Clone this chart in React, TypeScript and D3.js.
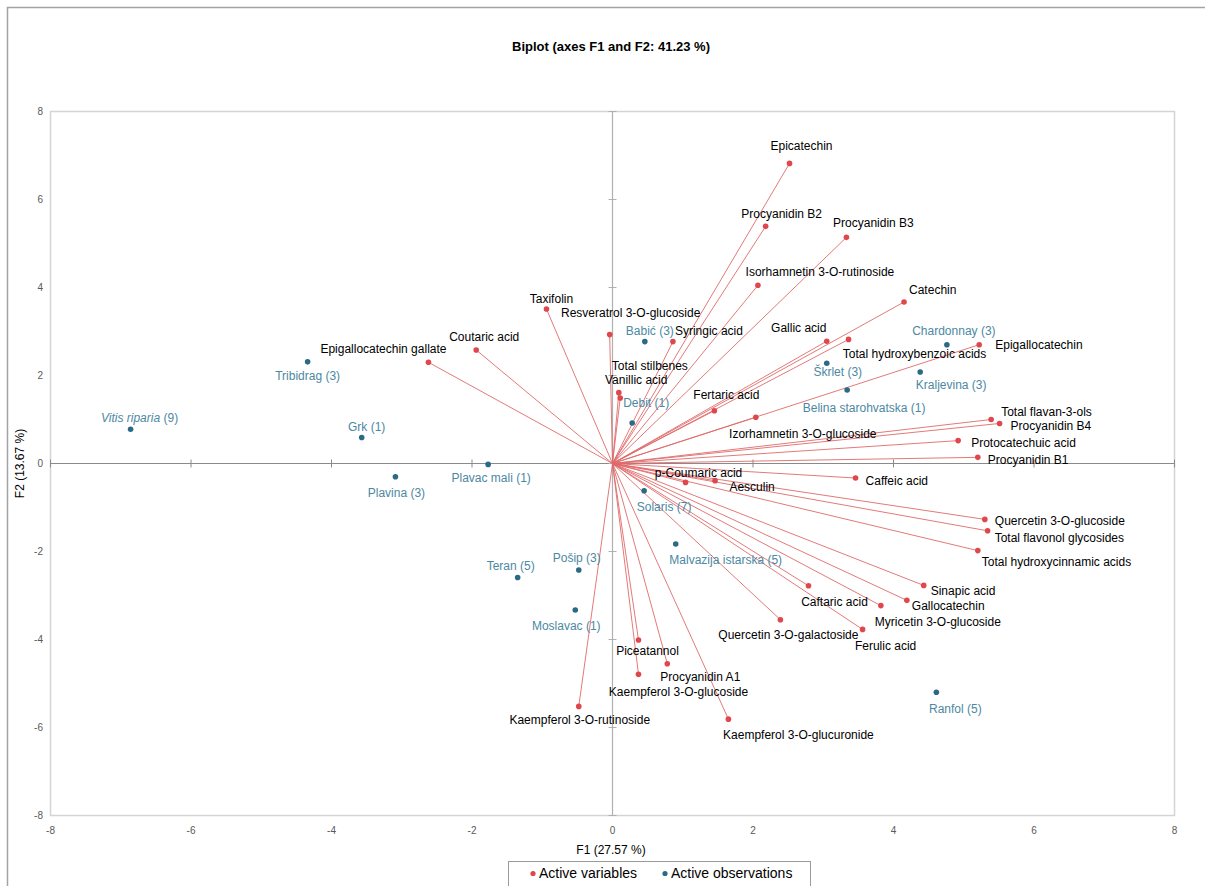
import React from "react";
import * as d3 from "d3";

// ---- Data ----
const varNames = [
  "Epicatechin", "Procyanidin B2", "Procyanidin B3", "Isorhamnetin 3-O-rutinoside", "Catechin",
  "Taxifolin", "Resveratrol 3-O-glucoside", "Syringic acid", "Gallic acid", "Total hydroxybenzoic acids",
  "Epigallocatechin", "Coutaric acid", "Epigallocatechin gallate", "Total stilbenes", "Vanillic acid",
  "Fertaric acid", "Izorhamnetin 3-O-glucoside", "Total flavan-3-ols", "Procyanidin B4", "Protocatechuic acid",
  "Procyanidin B1", "Caffeic acid", "p-Coumaric acid", "Aesculin", "Quercetin 3-O-glucoside",
  "Total flavonol glycosides", "Total hydroxycinnamic acids", "Sinapic acid", "Caftaric acid", "Gallocatechin",
  "Myricetin 3-O-glucoside", "Quercetin 3-O-galactoside", "Ferulic acid", "Piceatannol", "Procyanidin A1",
  "Kaempferol 3-O-glucoside", "Kaempferol 3-O-rutinoside", "Kaempferol 3-O-glucuronide",
];
const varF1 = [
  2.52, 2.18, 3.33, 2.07, 4.15,
  -0.94, -0.04, 0.86, 3.05, 3.36,
  5.22, -1.94, -2.62, 0.09, 0.11,
  1.45, 2.04, 5.39, 5.51, 4.92,
  5.20, 3.46, 1.04, 1.46, 5.30,
  5.34, 5.20, 4.43, 2.79, 4.19,
  3.82, 2.39, 3.56, 0.37, 0.78,
  0.37, -0.48, 1.65,
];
const varF2 = [
  6.82, 5.39, 5.14, 4.05, 3.67,
  3.51, 2.93, 2.77, 2.78, 2.82,
  2.70, 2.58, 2.30, 1.61, 1.49,
  1.20, 1.05, 1.00, 0.91, 0.52,
  0.14, -0.33, -0.43, -0.39, -1.27,
  -1.53, -1.98, -2.77, -2.78, -3.11,
  -3.23, -3.55, -3.77, -4.01, -4.55,
  -4.79, -5.52, -5.81,
];

const obsNames = [
  "Vitis riparia (9)", "Tribidrag (3)", "Grk (1)", "Plavina (3)", "Plavac mali (1)",
  "Teran (5)", "Pošip (3)", "Moslavac (1)", "Babić (3)", "Debit (1)",
  "Solaris (7)", "Malvazija istarska (5)", "Škrlet (3)", "Belina starohvatska (1)", "Chardonnay (3)",
  "Kraljevina (3)", "Ranfol (5)",
];
const obsF1 = [
  -6.86, -4.34, -3.57, -3.09, -1.77,
  -1.35, -0.48, -0.53, 0.46, 0.28,
  0.45, 0.90, 3.05, 3.34, 4.76,
  4.38, 4.61,
];
const obsF2 = [
  0.78, 2.31, 0.59, -0.30, -0.02,
  -2.59, -2.42, -3.33, 2.77, 0.92,
  -0.62, -1.83, 2.28, 1.67, 2.70,
  2.08, -5.20,
];

const tickValues = [-8, -6, -4, -2, 0, 2, 4, 6, 8];

const titleText = "Biplot (axes F1 and F2: 41.23 %)";
const xTitle = "F1 (27.57 %)";
const yTitle = "F2 (13.67 %)";
const legendLabels = ["Active variables", "Active observations"];

// ---- Label placement (pixel offsets of label centre from the point) ----
const varLabelOffsets: Record<string, [number, number, string?]> = {
  "Epicatechin": [12, -18],
  "Procyanidin B2": [16, -13],
  "Procyanidin B3": [27, -15],
  "Isorhamnetin 3-O-rutinoside": [62, -14],
  "Catechin": [5, -12, "start"],
  "Taxifolin": [5, -10],
  "Resveratrol 3-O-glucoside": [21, -22],
  "Syringic acid": [36, -11],
  "Gallic acid": [-28, -13],
  "Total hydroxybenzoic acids": [66, 14],
  "Epigallocatechin": [16, 0, "start"],
  "Coutaric acid": [8, -13],
  "Epigallocatechin gallate": [-45, -14],
  "Total stilbenes": [31, -27],
  "Vanillic acid": [16, -18],
  "Fertaric acid": [12, -16],
  "Izorhamnetin 3-O-glucoside": [47, 16],
  "Total flavan-3-ols": [10, -8, "start"],
  "Procyanidin B4": [11, 2, "start"],
  "Protocatechuic acid": [13, 2, "start"],
  "Procyanidin B1": [10, 2, "start"],
  "Caffeic acid": [10, 3, "start"],
  "p-Coumaric acid": [13, -10],
  "Aesculin": [37, 6],
  "Quercetin 3-O-glucoside": [10, 1, "start"],
  "Total flavonol glycosides": [7, 7, "start"],
  "Total hydroxycinnamic acids": [4, 11, "start"],
  "Sinapic acid": [7, 5, "start"],
  "Caftaric acid": [26, 16],
  "Gallocatechin": [5, 5, "start"],
  "Myricetin 3-O-glucoside": [57, 16],
  "Quercetin 3-O-galactoside": [8, 15],
  "Ferulic acid": [23, 16],
  "Piceatannol": [9, 11],
  "Procyanidin A1": [33, 13],
  "Kaempferol 3-O-glucoside": [40, 18],
  "Kaempferol 3-O-rutinoside": [1, 13],
  "Kaempferol 3-O-glucuronide": [70, 16],
};
const obsLabelOffsets: Record<string, [number, number]> = {
  "Vitis riparia (9)": [9, -11],
  "Tribidrag (3)": [0, 14],
  "Grk (1)": [5, -11],
  "Plavina (3)": [1, 16],
  "Plavac mali (1)": [3, 13],
  "Teran (5)": [-7, -12],
  "Pošip (3)": [-2, -12],
  "Moslavac (1)": [-9, 16],
  "Babić (3)": [5, -11],
  "Debit (1)": [14, -20],
  "Solaris (7)": [20, 16],
  "Malvazija istarska (5)": [50, 16],
  "Škrlet (3)": [11, 9],
  "Belina starohvatska (1)": [17, 18],
  "Chardonnay (3)": [7, -14],
  "Kraljevina (3)": [31, 13],
  "Ranfol (5)": [19, 16],
};

const W = 1205;
const H = 886;
const FONT = "'Liberation Sans', Arial, Helvetica, sans-serif";
const RED = "#e0474c";
const LINE_RED = "#e06a6a";
const BLUE_DOT = "#2a6a85";
const BLUE_TEXT = "#4c88a2";

export default function App() {
  const x = d3.scaleLinear().domain([-8, 8]).range([50.5, 1174.5]);
  const y = d3.scaleLinear().domain([-8, 8]).range([815.5, 111.5]);
  const x0 = x(0);
  const y0 = y(0);

  return (
    <svg
      width={W}
      height={H}
      style={{ position: "absolute", left: 0, top: 0, background: "#fff", fontFamily: FONT }}
    >
      {/* outer frame */}
      <rect x={7.5} y={7.5} width={W + 20} height={H + 20} fill="#fff" stroke="#a3a3a3" strokeWidth={1.5} />

      {/* title */}
      <text x={611} y={51} textAnchor="middle" fontSize={13} fontWeight="bold" fill="#000">
        {titleText}
      </text>

      {/* plot area border */}
      <rect
        x={x(-8)}
        y={y(8)}
        width={x(8) - x(-8)}
        height={y(-8) - y(8)}
        fill="none"
        stroke="#d4d4d4"
        strokeWidth={1.5}
      />

      {/* zero axes */}
      <line x1={x(-8)} x2={x(8)} y1={y0} y2={y0} stroke="#8a8a8a" strokeWidth={1} />
      <line x1={x0} x2={x0} y1={y(8)} y2={y(-8)} stroke="#b0b0b0" strokeWidth={1.2} />
      {tickValues.map((t) => (
        <g key={"tk" + t}>
          <line x1={x0 - 4} x2={x0 + 4} y1={y(t)} y2={y(t)} stroke="#b0b0b0" strokeWidth={1} />
          <line x1={x(t)} x2={x(t)} y1={y0 - 4} y2={y0 + 4} stroke="#8a8a8a" strokeWidth={1} />
        </g>
      ))}

      {/* tick labels */}
      {tickValues.map((t) => (
        <text key={"xt" + t} x={x(t)} y={834} textAnchor="middle" fontSize={10} fill="#595959">
          {t}
        </text>
      ))}
      {tickValues.map((t) => (
        <text key={"yt" + t} x={43} y={y(t) + 3.5} textAnchor="end" fontSize={10} fill="#595959">
          {t}
        </text>
      ))}

      {/* axis titles */}
      <text x={611} y={854} textAnchor="middle" fontSize={12} fill="#000">
        {xTitle}
      </text>
      <text
        transform={`translate(24, ${y0}) rotate(-90)`}
        textAnchor="middle"
        fontSize={12}
        fill="#000"
      >
        {yTitle}
      </text>

      {/* variable vectors */}
      {varNames.map((n, i) => (
        <line
          key={"vl" + n}
          x1={x0}
          y1={y0}
          x2={x(varF1[i])}
          y2={y(varF2[i])}
          stroke={LINE_RED}
          strokeWidth={0.9}
        />
      ))}

      {/* observations */}
      {obsNames.map((n, i) => (
        <circle key={"oc" + n} cx={x(obsF1[i])} cy={y(obsF2[i])} r={2.8} fill={BLUE_DOT} />
      ))}
      {obsNames.map((n, i) => {
        const off = obsLabelOffsets[n] || [0, 14];
        const px = x(obsF1[i]) + off[0];
        const py = y(obsF2[i]) + off[1];
        if (n.startsWith("Vitis riparia")) {
          return (
            <text key={"ot" + n} x={px} y={py} dy="0.35em" textAnchor="middle" fontSize={12} fill={BLUE_TEXT}>
              <tspan fontStyle="italic">Vitis riparia</tspan>
              <tspan> (9)</tspan>
            </text>
          );
        }
        return (
          <text key={"ot" + n} x={px} y={py} dy="0.35em" textAnchor="middle" fontSize={12} fill={BLUE_TEXT}>
            {n}
          </text>
        );
      })}

      {/* variable points and labels */}
      {varNames.map((n, i) => (
        <circle key={"vc" + n} cx={x(varF1[i])} cy={y(varF2[i])} r={2.8} fill={RED} />
      ))}
      {varNames.map((n, i) => {
        const off = varLabelOffsets[n] || [0, -12];
        const anchor = off[2] || "middle";
        return (
          <text
            key={"vt" + n}
            x={x(varF1[i]) + off[0]}
            y={y(varF2[i]) + off[1]}
            dy="0.35em"
            textAnchor={anchor}
            fontSize={12}
            fill="#000"
          >
            {n}
          </text>
        );
      })}

      {/* legend */}
      <rect x={508.5} y={861.5} width={302} height={40} fill="#fff" stroke="#9a9a9a" strokeWidth={1} />
      <circle cx={533} cy={873.5} r={2.6} fill={RED} />
      <text x={539} y={873.5} dy="0.35em" fontSize={14} fill="#000">
        {legendLabels[0]}
      </text>
      <circle cx={665} cy={873.5} r={2.6} fill={BLUE_DOT} />
      <text x={671} y={873.5} dy="0.35em" fontSize={14} fill="#000">
        {legendLabels[1]}
      </text>
    </svg>
  );
}
